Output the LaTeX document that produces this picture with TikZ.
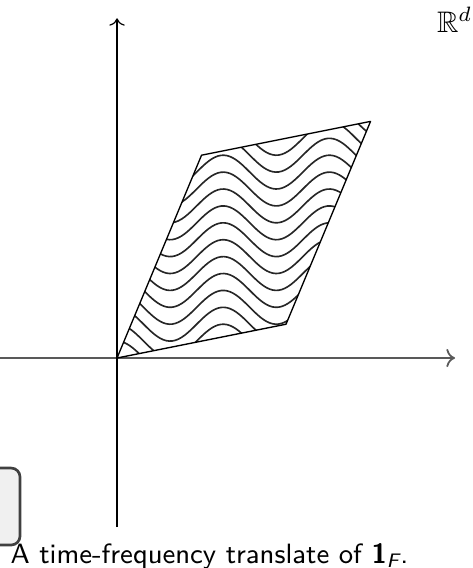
\documentclass[tikz,border=0pt]{standalone}
\usepackage{amsmath,amssymb}
\usepackage{tikz}
\usetikzlibrary{arrows.meta,positioning}
\tikzset{
  axisline/.style={->},
  regionedge/.style={draw=black,line width=0.45pt,line join=round},
  waveline/.style={draw=black!85,line width=0.55pt,smooth,samples=90},
  blockbox/.style={draw=black!75,fill=black!6,line width=0.9pt,rounded corners=3pt},
  spacelabel/.style={anchor=base west,inner sep=0pt},
  captionlabel/.style={font=\sffamily\fontsize{9.4}{11}\selectfont,anchor=base west,inner sep=0pt}
}
\begin{document}
\begin{tikzpicture}[x=1cm,y=1cm]
  \useasboundingbox (-1.385,-2.485) rectangle (4.201,4.237);
  % block frame cut at the left margin
  \draw[blockbox] (-1.8,-2.213) rectangle (-1.148,-1.302);
  % axes
  \coordinate (xstart) at (-1.385,0);
  \coordinate (xend) at (4.0,0);
  \coordinate (ystart) at (0,-2.0);
  \coordinate (yend) at (0,4.02);
  \draw[axisline,black!65,line width=0.6pt] (xstart) -- (xend);
  \draw[axisline] (ystart) -- (yend);
  % the parallelogram F
  \coordinate (p0) at (0,0);
  \coordinate (p1) at (2,0.4);
  \coordinate (p2) at (3,2.8);
  \coordinate (p3) at (1,2.4);
  \begin{scope}
    \clip (p0) -- (p1) -- (p2) -- (p3) -- cycle;
    \foreach \k in {-2,...,15}
      \draw[waveline,domain=-0.1:3.1] plot (\x,{0.2*\k+0.2*cos(5*\x r)});
  \end{scope}
  \draw[regionedge] (p0) -- (p1) -- (p2) -- (p3) -- cycle;
  \node[spacelabel] (space) at (3.78,3.85) {$\mathbb{R}^d$};
  \node[captionlabel] (caption) at (-1.266,-2.426)
    {A time-frequency translate of {\bfseries 1}\textsubscript{\itshape F}.};
\end{tikzpicture}
\end{document}
